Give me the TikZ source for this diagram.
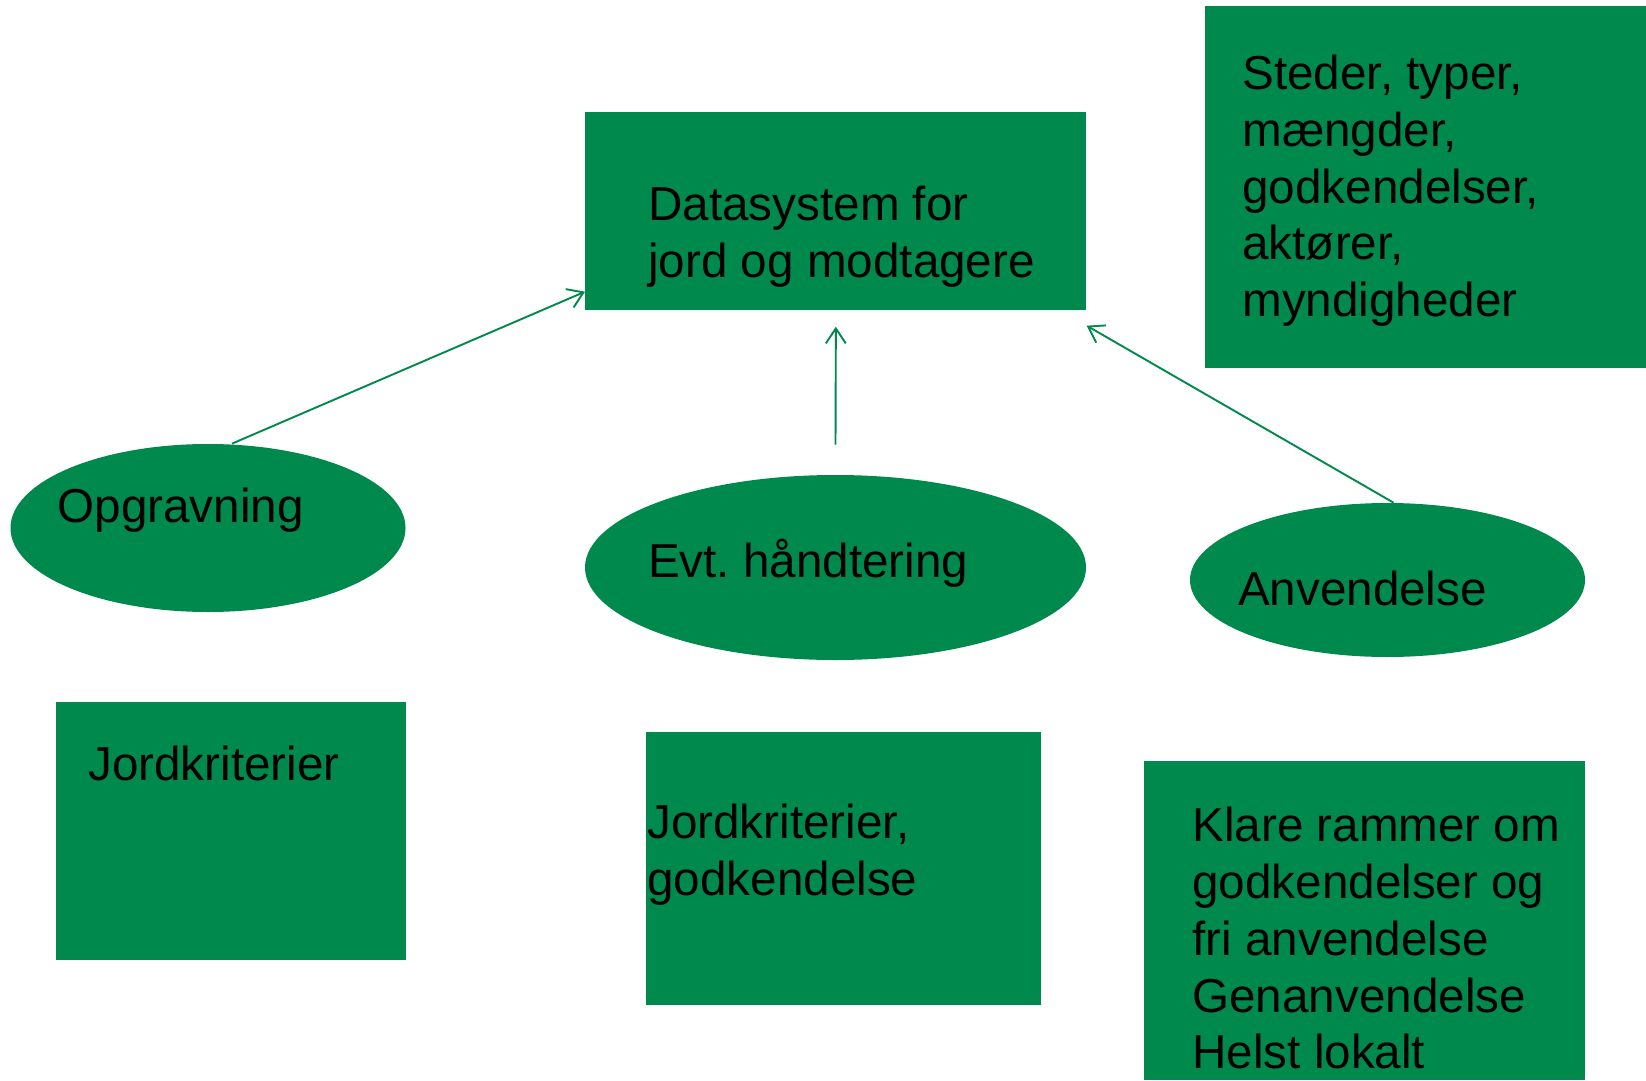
\documentclass[tikz,border=0pt]{standalone}
\usepackage{fontspec}
\setmainfont{Liberation Sans}
\usetikzlibrary{shapes.geometric,arrows.meta}
\definecolor{jordgreen}{RGB}{0,137,76}

\begin{document}
\begin{tikzpicture}[
  greenrect/.style={rectangle, fill=jordgreen, inner sep=0, anchor=north west},
  greenell/.style={ellipse, fill=jordgreen, inner sep=0},
  boxtext/.style={right, align=left, inner sep=0, font=\fontsize{27.1}{32.3}\selectfont},
  arrowline/.style={draw=jordgreen, line width=0.38mm, -{Straight Barb[length=3mm, width=4mm]}}
]
\useasboundingbox (0,0) rectangle (32.92,-21.6);

\node (rectInfo) [greenrect, minimum width=88.2mm, minimum height=72.4mm] at (24.1,-0.12) {};
\node (txtInfo) [boxtext] at ([xshift=7.4mm, yshift=-0.7mm]rectInfo.west) {Steder, typer,\\mængder,\\godkendelser,\\aktører,\\myndigheder};

\node (rectData) [greenrect, minimum width=100.2mm, minimum height=39.6mm] at (11.7,-2.24) {};
\node (txtData) [boxtext] at ([xshift=12.6mm, yshift=-5.1mm]rectData.west) {Datasystem for\\jord og modtagere};

\node (ellOpgravning) [greenell, minimum width=79mm, minimum height=33.6mm] at (4.16,-10.56) {};
\node (txtOpgravning) [boxtext] at ([xshift=9.4mm, yshift=3.6mm]ellOpgravning.west) {Opgravning};
\node (ellHaandtering) [greenell, minimum width=100.2mm, minimum height=37mm] at (16.71,-11.35) {};
\node (txtHaandtering) [boxtext] at ([xshift=12.6mm, yshift=0.9mm]ellHaandtering.west) {Evt.\ håndtering};
\node (ellAnvendelse) [greenell, minimum width=79mm, minimum height=30.8mm] at (27.75,-11.6) {};
\node (txtAnvendelse) [boxtext] at ([xshift=9.6mm, yshift=-1.6mm]ellAnvendelse.west) {Anvendelse};

\node (rectKriterier) [greenrect, minimum width=70mm, minimum height=51.6mm] at (1.12,-14.04) {};
\node (txtKriterier) [boxtext] at ([xshift=6.4mm, yshift=13.6mm]rectKriterier.west) {Jordkriterier};
\node (rectGodkendelse) [greenrect, minimum width=79mm, minimum height=54.6mm] at (12.92,-14.64) {};
\node (txtGodkendelse) [boxtext] at ([xshift=0.2mm, yshift=2.8mm]rectGodkendelse.west) {Jordkriterier,\\godkendelse};
\node (rectRammer) [greenrect, minimum width=88.2mm, minimum height=63.8mm] at (22.88,-15.22) {};
\node (txtRammer) [boxtext] at ([xshift=9.6mm, yshift=-3.5mm]rectRammer.west) {Klare rammer om\\godkendelser og\\fri anvendelse\\Genanvendelse\\Helst lokalt};

\draw [arrowline] ([xshift=4.8mm]ellOpgravning.north) -- ([yshift=3.8mm]rectData.south west);
\draw [arrowline] ([yshift=6mm]ellHaandtering.north) -- ([yshift=-3.2mm]rectData.south);
\draw [arrowline] ([xshift=1.2mm]ellAnvendelse.north) -- ([xshift=0mm, yshift=-3mm]rectData.south east);
\end{tikzpicture}
\end{document}
